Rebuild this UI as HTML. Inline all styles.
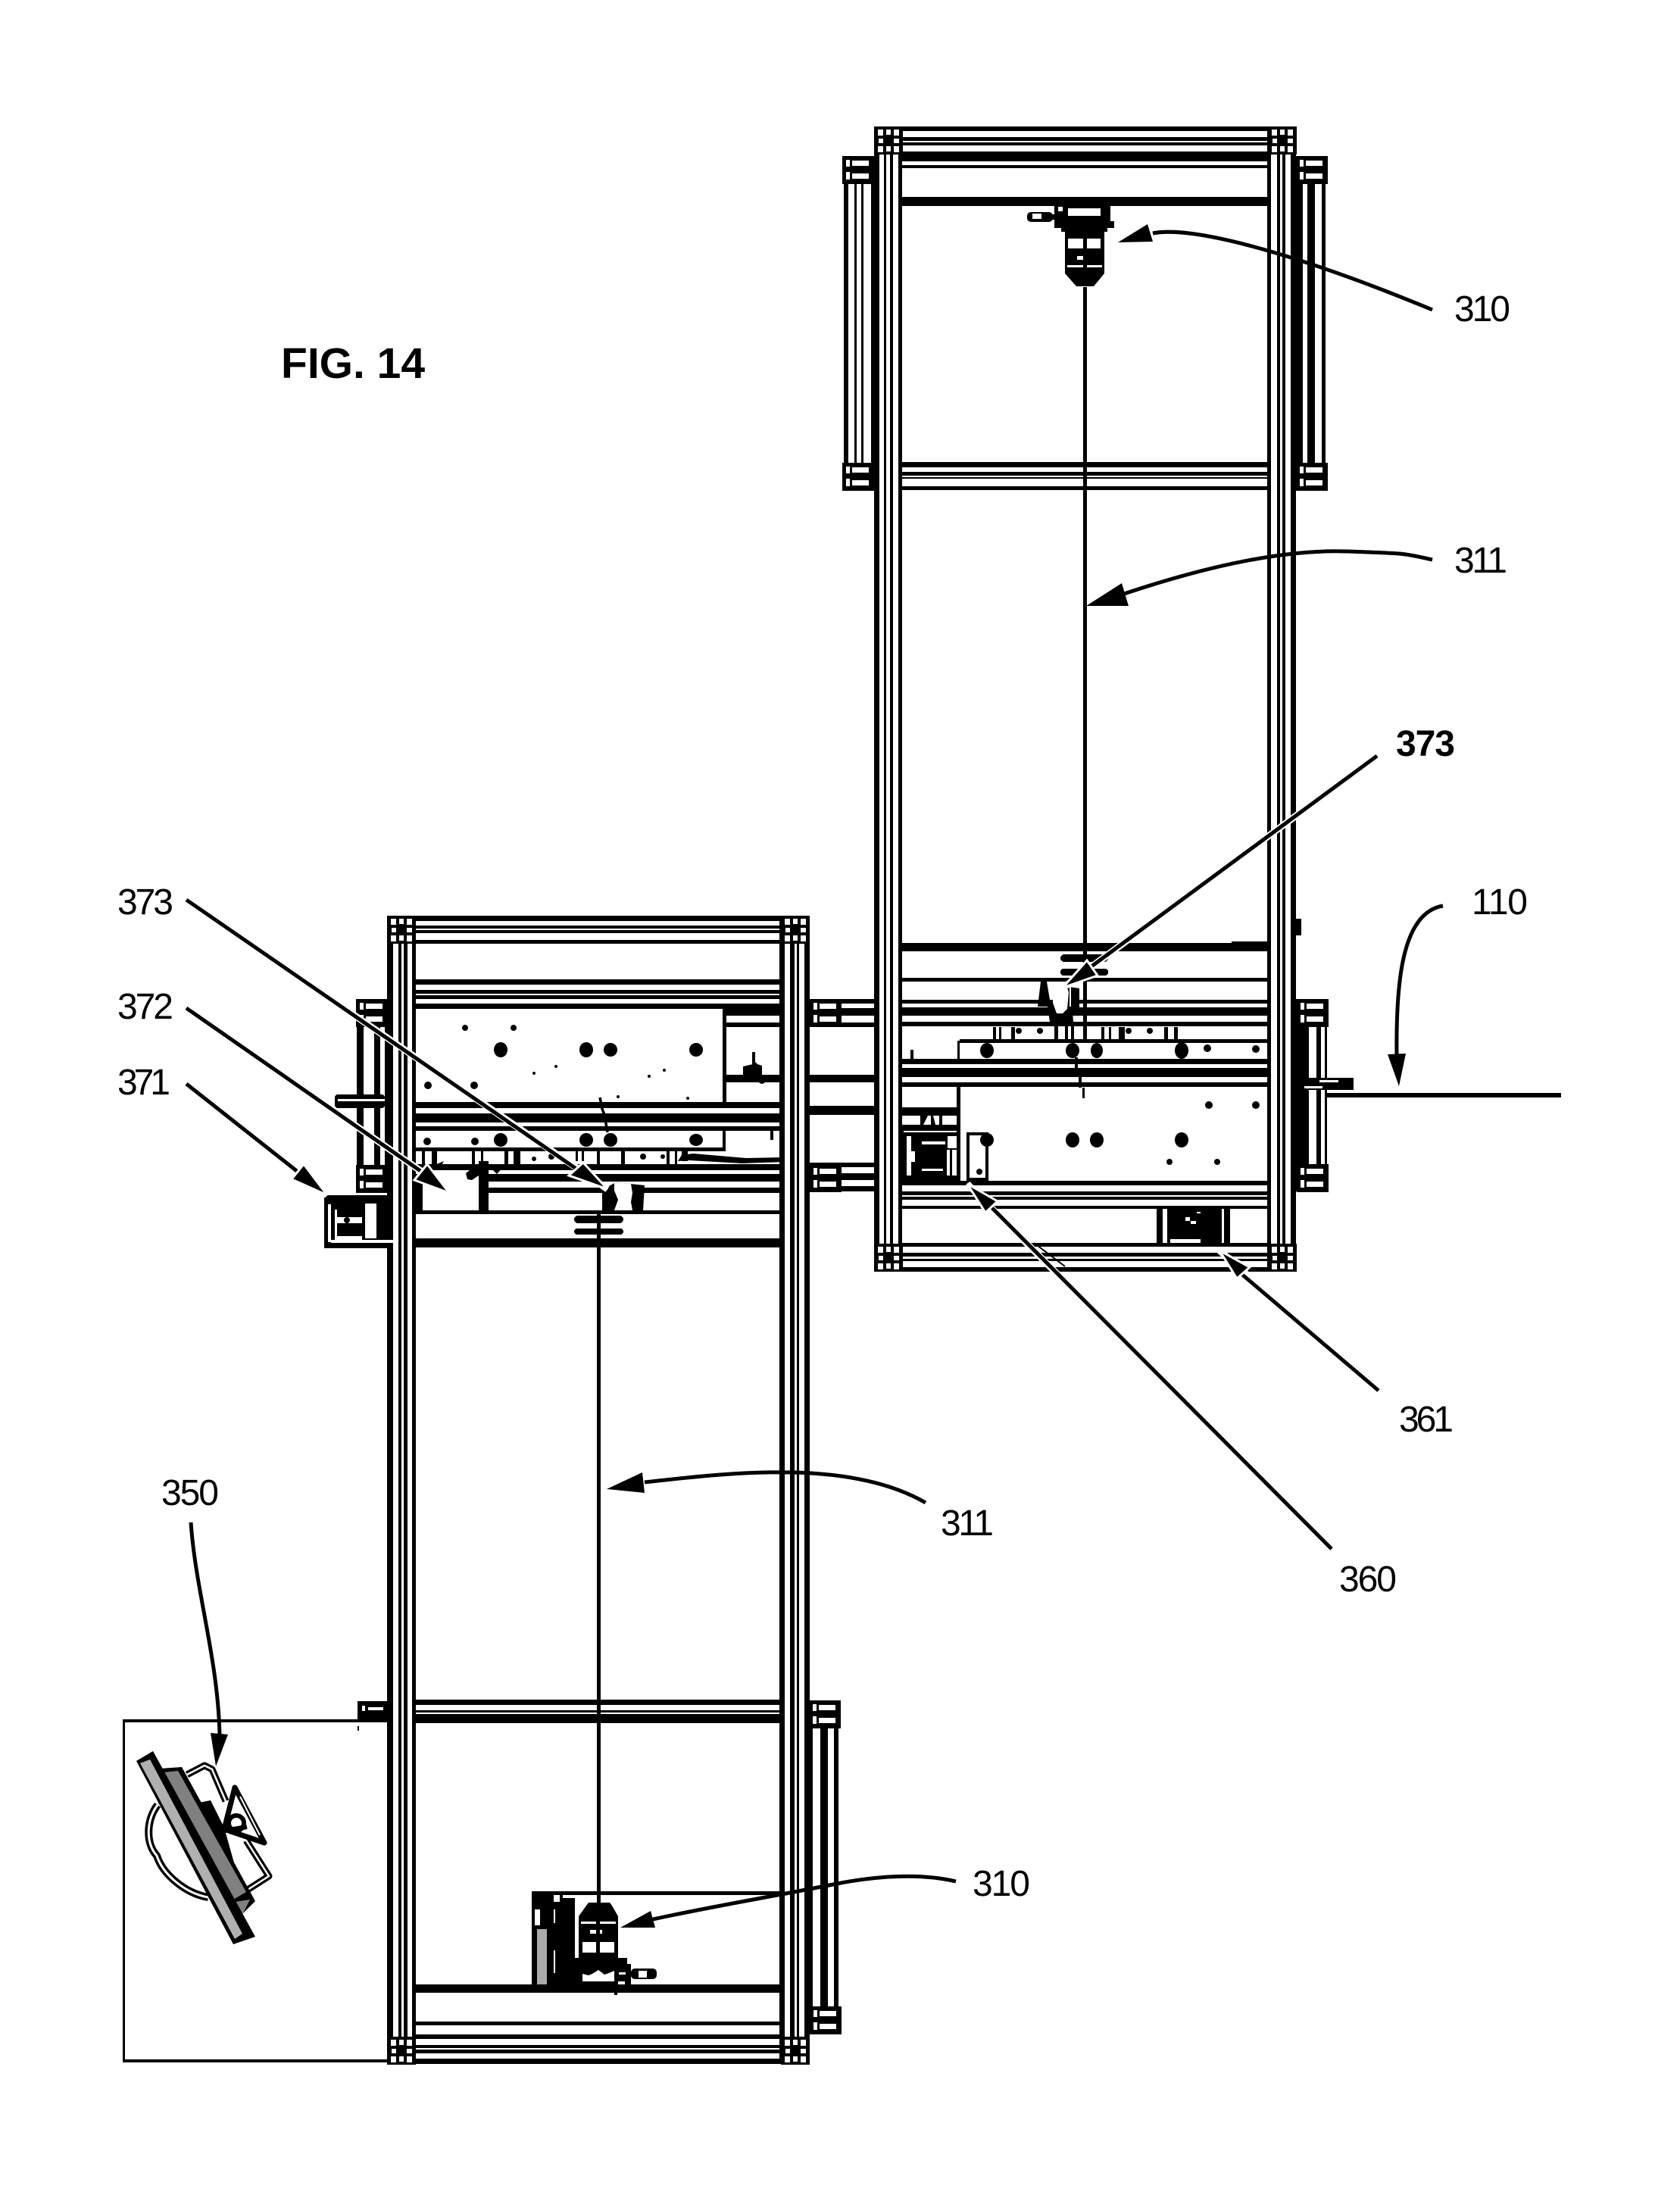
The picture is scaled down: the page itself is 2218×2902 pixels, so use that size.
<!DOCTYPE html>
<html><head><meta charset="utf-8"><style>
html,body{margin:0;padding:0;background:#fff}
svg{display:block}
text{font-family:"Liberation Sans",sans-serif;font-size:48px;fill:#000}
</style></head><body>
<svg width="2218" height="2902" viewBox="0 0 2218 2902" xmlns="http://www.w3.org/2000/svg">
<defs>
<g id="br"><rect width="42" height="37" fill="#000"/><rect x="5" y="5" width="5" height="9" fill="#fff"/><rect x="13" y="6" width="22" height="7" fill="#fff"/><rect x="5" y="21" width="5" height="10" fill="#fff"/><rect x="13" y="23" width="22" height="7" fill="#fff"/></g>
<g id="cn"><rect width="38" height="37" fill="#000"/><rect x="5" y="4" width="7" height="8" fill="#fff"/><rect x="16" y="4" width="6" height="7" fill="#fff"/><rect x="26" y="4" width="7" height="8" fill="#fff"/><rect x="6" y="16" width="6" height="6" fill="#fff"/><rect x="26" y="16" width="7" height="6" fill="#fff"/><rect x="5" y="26" width="7" height="8" fill="#fff"/><rect x="16" y="26" width="6" height="7" fill="#fff"/><rect x="26" y="26" width="7" height="8" fill="#fff"/></g>
</defs>
<rect width="2218" height="2902" fill="#fff"/>

<!-- ============ between-frame tracks ============ -->
<g fill="#000" shape-rendering="crispEdges">
<rect x="1069" y="1319" width="85" height="6"/><rect x="1069" y="1331" width="85" height="10"/><rect x="1069" y="1350" width="85" height="6"/>
<rect x="1069" y="1419" width="85" height="10"/><rect x="1069" y="1460" width="85" height="12"/>
<rect x="1069" y="1535" width="85" height="6"/><rect x="1069" y="1549" width="85" height="9"/><rect x="1069" y="1566" width="85" height="7"/>
<rect x="1082" y="1325" width="5" height="25"/><rect x="1096" y="1325" width="5" height="25"/>
<rect x="1082" y="1541" width="5" height="25"/><rect x="1096" y="1541" width="5" height="25"/>
</g>

<!-- ============ UPPER FRAME ============ -->
<g fill="#000" shape-rendering="crispEdges">
<rect x="1154" y="167" width="7" height="1512"/><rect x="1167" y="167" width="3" height="1512"/><rect x="1175" y="167" width="4" height="1512"/><rect x="1186" y="167" width="5" height="1512"/>
<rect x="1673" y="167" width="5" height="1512"/><rect x="1686" y="167" width="4" height="1512"/><rect x="1693" y="167" width="4" height="1512"/><rect x="1704" y="167" width="7" height="1512"/>
<rect x="1711" y="1213" width="7" height="22"/>
<rect x="1191" y="167" width="482" height="6"/><rect x="1191" y="181" width="482" height="5"/><rect x="1191" y="188" width="482" height="4"/><rect x="1191" y="200" width="482" height="13"/><rect x="1191" y="218" width="482" height="4"/><rect x="1191" y="260" width="482" height="12"/>
<rect x="1191" y="610" width="482" height="7"/><rect x="1191" y="623" width="482" height="5"/><rect x="1191" y="630" width="482" height="2"/><rect x="1191" y="642" width="482" height="5"/>
<rect x="1191" y="1245" width="482" height="11"/><rect x="1626" y="1243" width="47" height="3"/>
<rect x="1191" y="1291" width="482" height="5"/>
<rect x="1191" y="1320" width="482" height="5"/><rect x="1191" y="1330" width="482" height="11"/><rect x="1191" y="1349" width="482" height="6"/>
<rect x="1267" y="1372" width="406" height="5"/>
<rect x="1264" y="1374" width="3" height="24"/>
<rect x="1191" y="1398" width="482" height="7"/><rect x="1191" y="1410" width="482" height="12"/><rect x="1191" y="1429" width="482" height="6"/>
<rect x="1263" y="1435" width="5" height="125"/>
<rect x="1191" y="1462" width="72" height="11"/>
<rect x="1191" y="1559" width="482" height="6"/><rect x="1191" y="1573" width="482" height="5"/><rect x="1191" y="1580" width="482" height="4"/><rect x="1191" y="1592" width="482" height="4"/>
<rect x="1191" y="1641" width="482" height="5"/><rect x="1191" y="1654" width="482" height="5"/><rect x="1191" y="1662" width="482" height="3"/><rect x="1191" y="1673" width="520" height="6"/>
<rect x="1430" y="379" width="5" height="998"/>
<rect x="1419" y="1396" width="4" height="20"/><rect x="1424" y="1416" width="4" height="20"/><rect x="1429" y="1436" width="3" height="14"/>
<rect x="1202" y="1386" width="4" height="12"/>
<rect x="1114" y="243" width="6" height="368"/><rect x="1128" y="243" width="3" height="368"/><rect x="1137" y="243" width="3" height="368"/><rect x="1150" y="243" width="4" height="368"/>
<rect x="1711" y="243" width="9" height="368"/><rect x="1726" y="243" width="10" height="368"/><rect x="1745" y="243" width="5" height="368"/>
<rect x="1719" y="1354" width="9" height="184"/><rect x="1738" y="1354" width="6" height="184"/><rect x="1749" y="1354" width="3" height="184"/>
<rect x="1711" y="1319" width="8" height="254"/>
<rect x="1311" y="1356" width="4" height="17"/><rect x="1319" y="1356" width="3" height="17"/><rect x="1335" y="1356" width="5" height="17"/><rect x="1392" y="1355" width="5" height="18"/><rect x="1406" y="1355" width="4" height="18"/><rect x="1414" y="1355" width="4" height="18"/><rect x="1454" y="1356" width="4" height="17"/><rect x="1464" y="1356" width="3" height="17"/><rect x="1477" y="1356" width="8" height="17"/><rect x="1537" y="1356" width="5" height="17"/><rect x="1550" y="1356" width="5" height="17"/>
<rect x="1400" y="1260" width="63" height="10" rx="5"/><rect x="1400" y="1279" width="63" height="9" rx="4"/>
<rect x="1527" y="1596" width="8" height="45"/><rect x="1541" y="1596" width="72" height="45"/><rect x="1616" y="1596" width="8" height="45"/>
</g>
<path d="M1365 1641L1406 1672" stroke="#000" stroke-width="2" fill="none"/>
<g fill="#fff" shape-rendering="crispEdges">
<rect x="1565" y="1607" width="6" height="5"/><rect x="1572" y="1612" width="7" height="4"/><rect x="1580" y="1600" width="5" height="2"/><rect x="1545" y="1636" width="40" height="5"/>
</g>
<path d="M1374 1296h8l4 24h4v-5l22-12 13 2v26l-9 5 1 13h-31l-3-20h-13z" fill="#000"/>
<path d="M1390 1306l18-4 3 8-2 22-6 6h-8l-5-14z" fill="#fff"/>
<rect x="1412" y="1303" width="2" height="26" fill="#fff"/>

<!-- 360 component -->
<g shape-rendering="crispEdges">
<rect x="1191" y="1473" width="72" height="12" fill="#fff"/>
<rect x="1191" y="1485" width="72" height="75" fill="#000"/>
<rect x="1193" y="1493" width="70" height="2" fill="#fff"/>
<rect x="1197" y="1500" width="6" height="52" fill="#fff"/><rect x="1203" y="1520" width="5" height="14" fill="#fff"/>
<rect x="1251" y="1500" width="12" height="16" fill="#fff"/><rect x="1250" y="1518" width="4" height="34" fill="#fff"/><rect x="1257" y="1518" width="6" height="34" fill="#fff"/>
<rect x="1217" y="1507" width="31" height="4" fill="#fff"/><rect x="1217" y="1543" width="28" height="3" fill="#fff"/>
</g>
<path d="M1215 1473h10l-6 12h-4zM1229 1473h3l3 12h-6zM1240 1473h4v12h-4z" fill="#000"/>
<rect x="1278" y="1497" width="25" height="60" fill="#fff" stroke="#000" stroke-width="4"/>

<g fill="#000">
<ellipse cx="1303" cy="1387" rx="9" ry="10"/><ellipse cx="1416" cy="1387" rx="9" ry="10"/><ellipse cx="1448" cy="1387" rx="8" ry="10"/><ellipse cx="1560" cy="1387" rx="9" ry="11"/><circle cx="1594" cy="1384" r="5"/><circle cx="1658" cy="1385" r="5"/>
<circle cx="1345" cy="1361" r="4"/><circle cx="1373" cy="1361" r="4"/><circle cx="1490" cy="1361" r="4"/><circle cx="1518" cy="1361" r="4"/>
<circle cx="1596" cy="1459" r="5"/><circle cx="1658" cy="1459" r="5"/>
<ellipse cx="1416" cy="1505" rx="9" ry="10"/><ellipse cx="1448" cy="1505" rx="9" ry="10"/><ellipse cx="1560" cy="1505" rx="9" ry="10"/>
<circle cx="1544" cy="1534" r="4"/><circle cx="1607" cy="1534" r="4"/>
<circle cx="1303" cy="1505" r="9"/><circle cx="1293" cy="1547" r="4"/>
</g>
<rect x="1719" y="1423" width="68" height="16" fill="#000" shape-rendering="crispEdges"/>
<rect x="1722" y="1434" width="24" height="3" fill="#fff"/><rect x="1742" y="1426" width="25" height="3" fill="#fff"/>
<rect x="1749" y="1443" width="312" height="6" fill="#000" shape-rendering="crispEdges"/>

<use href="#cn" x="1154" y="167"/><use href="#cn" x="1674" y="167"/>
<use href="#cn" x="1154" y="1642"/><use href="#cn" x="1674" y="1642"/>
<use href="#br" x="1112" y="206"/><use href="#br" x="1112" y="611"/>
<use href="#br" x="1711" y="206"/><use href="#br" x="1711" y="611"/>
<use href="#br" x="1712" y="1319"/><use href="#br" x="1712" y="1537"/>

<!-- upper motor -->
<g fill="#000" shape-rendering="crispEdges">
<rect x="1392" y="272" width="74" height="20"/><rect x="1392" y="292" width="79" height="9"/><rect x="1401" y="301" width="61" height="5"/><rect x="1406" y="306" width="52" height="55"/>
<rect x="1378" y="283" width="16" height="7"/>
</g>
<path d="M1406 361h52l-14 17h-23z" fill="#000"/>
<rect x="1356" y="280" width="34" height="13" rx="5" fill="#000"/>
<g fill="#fff" shape-rendering="crispEdges">
<rect x="1363" y="282" width="12" height="7"/><rect x="1397" y="273" width="6" height="6"/><rect x="1410" y="275" width="43" height="10"/>
<rect x="1410" y="315" width="20" height="13"/><rect x="1435" y="315" width="18" height="13"/><rect x="1422" y="338" width="8" height="5"/><rect x="1409" y="350" width="21" height="3"/><rect x="1435" y="350" width="20" height="3"/>
</g>

<!-- ============ LOWER FRAME ============ -->
<g fill="#000" shape-rendering="crispEdges">
<rect x="511" y="1209" width="8" height="1516"/><rect x="526" y="1209" width="4" height="1516"/><rect x="533" y="1209" width="5" height="1516"/><rect x="544" y="1209" width="5" height="1516"/>
<rect x="1029" y="1209" width="7" height="1516"/><rect x="1043" y="1209" width="6" height="1516"/><rect x="1052" y="1209" width="3" height="1516"/><rect x="1062" y="1209" width="7" height="1516"/>
<rect x="549" y="1209" width="480" height="7"/><rect x="549" y="1222" width="480" height="4"/><rect x="549" y="1228" width="480" height="4"/><rect x="549" y="1241" width="480" height="5"/>
<rect x="549" y="1293" width="480" height="7"/><rect x="549" y="1307" width="480" height="5"/><rect x="549" y="1314" width="480" height="5"/><rect x="549" y="1325" width="480" height="7"/>
<rect x="954" y="1332" width="75" height="9"/><rect x="954" y="1350" width="75" height="6"/><rect x="954" y="1419" width="75" height="10"/><rect x="954" y="1341" width="5" height="114"/>
<rect x="549" y="1455" width="480" height="8"/><rect x="549" y="1470" width="480" height="12"/><rect x="549" y="1487" width="480" height="6"/>
<rect x="954" y="1493" width="4" height="22"/>
<rect x="549" y="1515" width="409" height="5"/>
<rect x="549" y="1537" width="480" height="8"/><rect x="645" y="1550" width="384" height="10"/><rect x="645" y="1568" width="384" height="7"/><rect x="549" y="1598" width="480" height="5"/>
<rect x="548" y="1635" width="482" height="12"/>
<rect x="632" y="1533" width="13" height="65"/><rect x="548" y="1550" width="10" height="48"/>
<rect x="557" y="1519" width="4" height="18"/><rect x="570" y="1519" width="7" height="18"/><rect x="623" y="1519" width="4" height="18"/><rect x="635" y="1519" width="3" height="18"/><rect x="666" y="1519" width="5" height="18"/><rect x="678" y="1519" width="9" height="18"/><rect x="760" y="1519" width="3" height="14"/><rect x="768" y="1519" width="3" height="14"/><rect x="788" y="1519" width="4" height="18"/><rect x="820" y="1519" width="5" height="18"/><rect x="880" y="1519" width="4" height="18"/><rect x="891" y="1519" width="3" height="18"/><rect x="900" y="1519" width="8" height="14"/>
<rect x="788" y="1598" width="5" height="922"/>
<rect x="758" y="1605" width="65" height="10" rx="5"/><rect x="758" y="1622" width="65" height="8" rx="4"/>
<rect x="993" y="1389" width="4" height="20"/><rect x="1017" y="1493" width="4" height="12"/>
<rect x="549" y="2244" width="480" height="7"/><rect x="549" y="2258" width="480" height="3"/><rect x="549" y="2263" width="480" height="12"/>
<rect x="702" y="2497" width="327" height="5"/>
<rect x="549" y="2620" width="480" height="11"/><rect x="549" y="2669" width="480" height="5"/><rect x="549" y="2686" width="480" height="6"/><rect x="549" y="2700" width="480" height="4"/><rect x="549" y="2706" width="480" height="5"/><rect x="549" y="2718" width="520" height="7"/>
<rect x="471" y="1356" width="9" height="184"/><rect x="494" y="1356" width="8" height="184"/><rect x="508" y="1356" width="3" height="184"/>
<rect x="1069" y="2282" width="4" height="367"/><rect x="1083" y="2282" width="10" height="367"/><rect x="1101" y="2282" width="6" height="367"/>
<rect x="442" y="1445" width="66" height="18" rx="4"/>
</g>
<rect x="446" y="1451" width="62" height="3" fill="#fff"/>
<path d="M981 1408l13-3 0-6 6 6 6 2 0 12-25 1z" fill="#000"/><circle cx="1006" cy="1426" r="5" fill="#000"/>
<path d="M915 1523l70 6 50-1 0 6-55 2-70-4-15 1 5-8z" fill="#000"/>
<path d="M586 1533l-14 6 10 1z M665 1540l-15 4 6 6 z" fill="#000"/>
<path d="M620 1545l-5 4 2 8 6 1 9-6v-8z" fill="#000"/>
<use href="#cn" x="511" y="1209"/><use href="#cn" x="1031" y="1209"/>
<use href="#cn" x="511" y="2689"/><use href="#cn" x="1031" y="2689"/>
<use href="#br" x="470" y="1319"/><use href="#br" x="470" y="1538"/>
<use href="#br" x="1069" y="1319"/><use href="#br" x="1069" y="1537"/>
<use href="#br" x="1068" y="2245"/><use href="#br" x="1069" y="2649"/>
<g fill="#000">
<ellipse cx="661" cy="1386" rx="9" ry="10"/><ellipse cx="774" cy="1386" rx="9" ry="10"/><ellipse cx="806" cy="1386" rx="9" ry="9"/><ellipse cx="919" cy="1386" rx="9" ry="9"/>
<circle cx="614" cy="1357" r="4"/><circle cx="678" cy="1357" r="4"/><circle cx="565" cy="1433" r="5"/><circle cx="626" cy="1433" r="5"/>
<circle cx="734" cy="1408" r="2"/><circle cx="705" cy="1417" r="2"/><circle cx="877" cy="1413" r="2"/><circle cx="857" cy="1421" r="2"/><circle cx="816" cy="1448" r="2"/><circle cx="908" cy="1450" r="2"/>
<ellipse cx="661" cy="1505" rx="9" ry="9"/><ellipse cx="774" cy="1505" rx="9" ry="9"/><ellipse cx="806" cy="1505" rx="9" ry="9"/><ellipse cx="919" cy="1505" rx="9" ry="8"/><circle cx="564" cy="1507" r="5"/><circle cx="627" cy="1507" r="5"/>
<circle cx="705" cy="1530" r="3"/><circle cx="728" cy="1527" r="4"/><circle cx="849" cy="1527" r="4"/><circle cx="875" cy="1527" r="3"/>
</g>
<path d="M792 1449l3 15 3 8 4 23" stroke="#000" stroke-width="3.5" fill="none"/>
<path d="M795 1571l18-10 38 4-2 33h-54z" fill="#000"/>
<path d="M811 1561l22 2 2 12-2 12 2 11h-24l5-14-5-12z" fill="#fff"/>

<!-- 371 component -->
<g shape-rendering="crispEdges">
<rect x="428" y="1578" width="84" height="70" fill="#000"/>
<rect x="433" y="1590" width="4" height="50" fill="#fff"/>
<rect x="442" y="1597" width="3" height="39" fill="#fff"/>
<rect x="445" y="1607" width="33" height="8" fill="#fff"/>
<rect x="442" y="1632" width="36" height="5" fill="#fff"/>
<rect x="482" y="1589" width="15" height="46" fill="#fff"/>
<rect x="437" y="1637" width="83" height="4" fill="#fff"/>
<rect x="526" y="1637" width="4" height="4" fill="#000"/>
</g>
<circle cx="458" cy="1611" r="4" fill="#000"/>

<!-- lower motor -->
<g fill="#000" shape-rendering="crispEdges">
<rect x="702" y="2500" width="57" height="120"/><rect x="753" y="2585" width="75" height="35"/><rect x="764" y="2530" width="52" height="56"/><rect x="815" y="2593" width="18" height="30"/><rect x="811" y="2620" width="4" height="14"/>
</g>
<path d="M764 2530l10-14 3-4 28 0 3 4 8 14z" fill="#000"/>
<rect x="833" y="2599" width="34" height="14" rx="5" fill="#000"/>
<rect x="709" y="2547" width="13" height="73" fill="#aaa" shape-rendering="crispEdges"/>
<g fill="#fff" shape-rendering="crispEdges">
<rect x="706" y="2521" width="7" height="21"/><rect x="731" y="2502" width="8" height="9"/><rect x="743" y="2502" width="16" height="4"/>
<rect x="759" y="2502" width="5" height="83"/>
<rect x="769" y="2564" width="18" height="14"/><rect x="792" y="2564" width="19" height="14"/><rect x="767" y="2537" width="20" height="3"/><rect x="792" y="2537" width="21" height="3"/><rect x="779" y="2548" width="8" height="5"/><rect x="792" y="2548" width="3" height="5"/>
<rect x="843" y="2602" width="11" height="9"/><rect x="817" y="2604" width="9" height="3"/><rect x="816" y="2616" width="9" height="4"/>
<rect x="731" y="2521" width="2" height="18"/><rect x="731" y="2575" width="2" height="30"/>
</g>
<path d="M769 2616v-10l8 2 5-2 8-5 8 6 6-2 7-3v14z" fill="#fff"/>

<!-- inset box and saw -->
<g fill="#000" shape-rendering="crispEdges">
<rect x="162" y="2270" width="349" height="4"/><rect x="162" y="2270" width="3" height="453"/><rect x="162" y="2719" width="349" height="4"/>
<rect x="472" y="2246" width="39" height="24"/><rect x="472" y="2279" width="2" height="6"/>
</g>
<rect x="478" y="2252" width="4" height="7" fill="#fff"/><rect x="486" y="2254" width="20" height="4" fill="#fff"/>
<g fill="none" stroke-linejoin="round">
<path d="M208 2383C192 2405 193 2435 207 2450C215 2475 245 2500 275 2505" stroke="#000" stroke-width="10"/>
<path d="M208 2383C192 2405 193 2435 207 2450C215 2475 245 2500 275 2505" stroke="#fff" stroke-width="3"/>
<path d="M247 2343L270 2331L280 2336L298 2378" stroke="#000" stroke-width="9"/>
<path d="M247 2343L270 2331L280 2336L298 2378" stroke="#fff" stroke-width="2.5"/>
<path d="M325 2430L355 2477L327 2495" stroke="#000" stroke-width="9"/>
<path d="M325 2430L355 2477L327 2495" stroke="#fff" stroke-width="2.5"/>
<path d="M310 2360L349 2433L296 2415Z" fill="#fff" stroke="#000" stroke-width="7"/>
</g>
<path d="M317 2372L343 2423" stroke="#fff" stroke-width="2"/>
<circle cx="312" cy="2407" r="10" fill="#fff" stroke="#000" stroke-width="6"/>
<path d="M290 2418l36-6" stroke="#000" stroke-width="6"/>
<path d="M263 2380l15 -3 18 36 14 50 -14 4z" fill="#000"/>
<path d="M212 2335l28-2 97 177-20 20z" fill="#000"/>
<path d="M217 2340l18-2 90 160-17 10zM310 2511l20-3-10 20z" fill="#808080"/>
<path d="M180 2325l22-13 135 245-29 10z" fill="#000"/>
<path d="M185 2328l13-5 122 230-10 7z" fill="#b0b0b0"/>

<!-- ============ ARROWS ============ -->
<g fill="none" stroke-linecap="butt">
<path d="M1818 998L1403 1304.5" stroke="#fff" stroke-width="9"/>
<path d="M246 1188L802 1570" stroke="#fff" stroke-width="9"/>
<path d="M246 1331L593 1572" stroke="#fff" stroke-width="9"/>
<path d="M246 1431L432 1578" stroke="#fff" stroke-width="9"/>
<path d="M1758 2045L1277 1563" stroke="#fff" stroke-width="9"/>
<path d="M1820 1836L1610 1651" stroke="#fff" stroke-width="9"/>
<g stroke="#000" stroke-width="5">
<path d="M1522 308C1570 298 1700 330 1891 409"/>
<path d="M1481 785C1600 745 1700 725 1780 728S1850 730 1891 739"/>
<path d="M1818 998L1430 1284"/>
<path d="M1905 1196C1850 1205 1843 1300 1844 1392"/>
<path d="M1625 1670L1820 1836"/>
<path d="M1305 1590L1758 2045"/>
<path d="M246 1188L765 1546"/>
<path d="M246 1331L558 1548"/>
<path d="M246 1431L393 1547"/>
<path d="M851 1957C960 1945 1120 1925 1222 1984"/>
<path d="M862 2534C950 2515 1020 2504 1100 2488C1160 2476 1215 2473 1262 2484"/>
<path d="M252 2010C258 2100 288 2190 290 2292"/>
</g>
</g>
<g fill="#000" stroke="#fff" stroke-width="3">
<polygon points="1403,1304 1435,1268 1449,1288"/>
<polygon points="802,1570 770,1535 751,1552"/>
<polygon points="593,1575 564,1537 547,1558"/>
<polygon points="432,1578 401,1537 385,1557"/>
<polygon points="1277,1563 1317,1586 1301,1601"/>
<polygon points="1610,1651 1650,1673 1633,1688"/>
</g>
<g fill="#000">
<polygon points="1476,320 1515,296 1522,319"/>
<polygon points="1434,800 1481,770 1490,800"/>
<polygon points="1847,1434 1832,1392 1856,1391"/>
<polygon points="801,1966 848,1944 851,1971"/>
<polygon points="819,2545 859,2523 865,2545"/>
<polygon points="285,2332 278,2288 301,2290"/>
</g>

<!-- ============ LABELS ============ -->
<text x="371" y="499" style="font-size:57px;font-weight:bold">FIG. 14</text>
<text x="1920" y="424" textLength="74">310</text>
<text x="1920" y="756" textLength="70">311</text>
<text x="1843" y="998" textLength="78" style="font-weight:bold">373</text>
<text x="1943" y="1207" textLength="74">110</text>
<text x="155" y="1207" textLength="74">373</text>
<text x="155" y="1345" textLength="74">372</text>
<text x="155" y="1445" textLength="70">371</text>
<text x="1847" y="1890" textLength="72">361</text>
<text x="1768" y="2101" textLength="76">360</text>
<text x="1242" y="2027" textLength="70">311</text>
<text x="1284" y="2503" textLength="76">310</text>
<text x="213" y="1987" textLength="76">350</text>
</svg>
</body></html>
